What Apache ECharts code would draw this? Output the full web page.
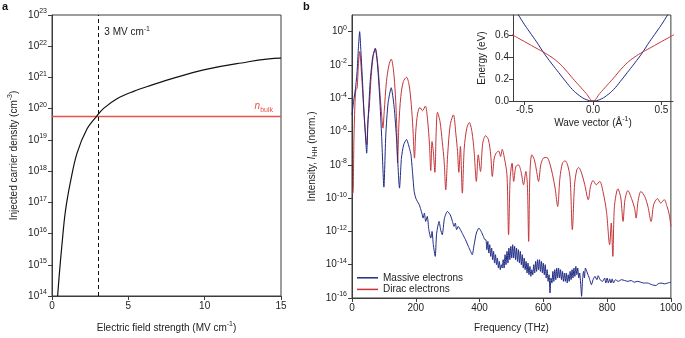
<!DOCTYPE html>
<html>
<head>
<meta charset="utf-8">
<script src="https://cdn.jsdelivr.net/npm/echarts@6.0.0/dist/echarts.min.js"></script>
<style>
html,body{margin:0;padding:0;background:#fff;}
#chart{width:685px;height:338px;}
</style>
</head>
<body>
<div id="chart"></div>
<script>
// ---------- Panel a: injected carrier density vs field (log10 of density) ----------
const fieldValues = [0.369,0.5,0.653,0.871,1.198,1.635,2.29,2.945,3.381,4.255,5.346,6.437,8.184,9.93,12.11,14.95,15];
const densityExp  = [14.0,14.82,15.65,16.69,17.63,18.57,19.35,19.77,20.01,20.32,20.555,20.74,21.01,21.24,21.44,21.62,21.62];
const bulkDensityExp = 19.76;
const fieldMark = 3;
const leftXTicks = [0,5,10,15];
const leftYTicks = [14,15,16,17,18,19,20,21,22,23];

// ---------- Panel b: HHG spectra (log10 of normalised intensity) ----------
const diracFreq = [0,3,6,9,12,16,20,24,29,34,40,46,50,54,59,65,73,81,88,93,97,101,108,116,123,130,136,140,143,147,153,161,171,179,186,191,196,200,206,213,221,230,237,243,247,251,255,260,264,268,276,283,289,294,300,308,318,326,331,335,340,346,352,360,368,376,383,390,396,403,410,419,428,435,440,446,452,460,466,471,478,486,491,496,502,507,514,522,530,538,545,550,554,558,564,572,579,585,592,600,611,620,629,637,645,652,660,668,676,684,691,698,705,711,720,730,741,748,756,766,777,787,798,808,813,818,823,834,843,850,856,865,878,886,891,897,906,918,928,938,946,958,968,979,988,995,1000];
const diracLogI = [-9.7,-9.7,-6.5,-4.5,-3.5,-3.4,-2.0,-1.2,-2.3,-3.8,-5.5,-6.8,-5.3,-4.6,-3.0,-1.7,-1.0,-2.0,-3.8,-5.0,-5.8,-4.8,-3.0,-2.0,-1.65,-2.3,-3.8,-5.5,-7.9,-5.6,-3.9,-3.0,-2.74,-3.2,-4.4,-5.8,-7.6,-6.0,-4.9,-4.55,-4.75,-4.47,-5.3,-6.8,-8.35,-6.6,-7.2,-8.45,-6.0,-4.85,-5.4,-6.6,-7.8,-9.5,-7.4,-5.6,-5.0,-6.2,-7.2,-8.45,-6.9,-9.7,-7.0,-5.8,-5.46,-6.0,-7.2,-9.0,-7.4,-8.4,-6.7,-6.25,-6.5,-7.4,-8.7,-7.6,-7.3,-7.17,-7.5,-7.07,-7.6,-8.6,-12.2,-8.8,-7.9,-9.0,-8.1,-8.0,-8.4,-9.2,-8.4,-9.2,-12.6,-8.5,-7.4,-7.7,-8.4,-9.0,-8.0,-7.6,-7.56,-7.9,-8.6,-9.4,-10.5,-8.8,-7.9,-7.76,-8.0,-8.8,-11.9,-9.2,-8.3,-8.16,-8.5,-9.2,-10.1,-9.3,-8.94,-9.2,-9.0,-9.6,-10.8,-12.8,-11.5,-13.5,-10.5,-9.44,-10.0,-11.4,-10.1,-9.55,-10.1,-10.6,-11.2,-10.2,-9.6,-9.9,-10.5,-11.4,-10.4,-10.03,-10.3,-10.09,-10.5,-11.0,-11.7];

const massiveFreq = [0,5,11,16,20,24,28,33,38,43,46,50,57,65,73,80,87,93,100,106,113,123,132,140,149,155,162,171,180,185,190,195,200,205,211,216,219,223,227,231,236,241,247,251,255,261,265,269,273,278,283,290,299,308,315,320,324,328,333,340,348,356,365,372,377,383,390,398,405,412,417,
420,423,426,429,432,435,438,441,444,447,450,453,456,459,462,465,468,471,474,477,480,483,486,489,492,495,498,501,504,507,510,513,516,519,522,525,528,531,534,537,540,543,546,549,552,555,558,561,564,567,570,573,576,579,582,585,588,591,594,597,600,603,606,609,612,615,618,621,624,627,630,633,636,639,642,645,648,651,654,657,660,663,666,669,672,675,678,681,684,687,690,693,696,699,702,705,708,711,714,717,720,723,726,729,732,
738,744,751,756,762,768,772,778,786,792,796,800,804,808,812,816,820,826,835,845,855,865,875,885,896,905,915,927,940,953,960,969,980,990,1000];
const massiveLogI = [-5.0,-4.2,-3.4,-2.4,-1.0,0.0,-1.2,-3.0,-5.0,-6.5,-7.3,-5.5,-3.0,-1.5,-1.02,-2.0,-4.0,-6.3,-9.34,-6.2,-4.3,-3.37,-4.5,-6.5,-9.4,-7.6,-6.8,-6.48,-7.0,-7.4,-8.5,-9.6,-10.0,-10.2,-10.4,-10.7,-10.9,-11.2,-10.9,-11.4,-11.1,-11.9,-12.4,-12.0,-12.8,-13.5,-12.2,-11.7,-11.4,-11.9,-12.2,-11.2,-10.8,-11.0,-11.4,-11.7,-11.5,-11.9,-11.7,-11.9,-12.2,-12.5,-12.9,-13.2,-13.4,-12.8,-12.1,-11.8,-12.0,-12.3,-12.5,
-12.5,-13.1,-12.6,-13.3,-12.8,-13.5,-13.0,-13.7,-13.2,-13.9,-13.4,-14.0,-13.6,-14.2,-13.8,-14.3,-14.0,-14.2,-13.7,-14.2,-13.4,-14.0,-13.2,-13.9,-13.0,-13.7,-12.9,-13.6,-12.8,-13.6,-12.9,-13.7,-13.0,-13.8,-13.1,-13.9,-13.2,-14.0,-13.4,-14.2,-13.6,-14.3,-13.8,-14.5,-13.9,-14.6,-14.1,-14.7,-14.3,-14.6,-14.0,-14.5,-13.8,-14.4,-13.7,-14.3,-13.7,-14.4,-13.8,-14.5,-13.9,-14.6,-14.0,-14.8,-14.3,-15.0,-14.6,-15.7,-14.8,-15.1,-14.4,-15.0,-14.3,-14.9,-14.2,-14.8,-14.2,-14.8,-14.3,-14.9,-14.4,-15.0,-14.5,-15.0,-14.5,-15.1,-14.6,-15.0,-14.4,-14.9,-14.3,-14.8,-14.2,-14.7,-14.1,-14.6,-14.2,-14.8,-14.5,-15.1,-15.9,-14.9,-14.4,-14.8,-14.2,
-14.5,-14.8,-15.2,-14.9,-14.7,-14.9,-14.66,-14.9,-15.0,-14.8,-15.1,-14.8,-15.1,-14.85,-15.1,-14.85,-15.1,-14.9,-15.0,-14.9,-14.95,-15.0,-14.95,-15.05,-15.0,-15.05,-15.1,-15.1,-15.2,-15.25,-15.15,-15.1,-15.15,-15.1,-15.05];
const rightXTicks = [0,200,400,600,800,1000];
const rightYTicks = [-16,-14,-12,-10,-8,-6,-4,-2,0];

// ---------- Inset: band dispersion ----------
const waveVector = [-0.6,-0.55,-0.5,-0.45,-0.4,-0.366,-0.3,-0.25,-0.2,-0.15,-0.1,-0.05,0,0.05,0.1,0.15,0.2,0.25,0.3,0.366,0.4,0.45,0.5,0.55,0.6];
const energyMassive = [0.9,0.8,0.7,0.61,0.52,0.452,0.34,0.26,0.18,0.105,0.05,0.013,0,0.013,0.05,0.105,0.18,0.26,0.34,0.452,0.52,0.61,0.7,0.8,0.9];
const energyDirac = [0.615,0.58,0.545,0.51,0.475,0.452,0.40,0.35,0.285,0.21,0.14,0.07,0,0.07,0.14,0.21,0.285,0.35,0.40,0.452,0.475,0.51,0.545,0.58,0.615];
const insetXTicks = [-0.5,0,0.5];
const insetYTicks = [0,0.2,0.4,0.6];

const FONT = '"Liberation Sans", Arial, sans-serif';
const TXT = '#222';
const RED = '#c4353a';
const BLUE = '#1f2a84';
const BULK_RED = '#e8514b';
const FRAME = '#3c3c3c';

const zip = (a, b) => a.map((v, i) => [v, b[i]]);
const supRich = {
  sup: { fontSize: 7, fontFamily: FONT, color: TXT, padding: [0, 0, 7, 0] },
  sub: { fontSize: 7, fontFamily: FONT, color: TXT, padding: [6, 0, 0, 0] },
  it: { fontSize: 10, fontFamily: FONT, color: TXT, fontStyle: 'italic' }
};
const expFmt = v => '10{sup|' + (v < 0 ? '-' + Math.abs(v) : v) + '}';
const plainFmt = v => String(v);

const baseAxis = {
  axisLine: { show: true, onZero: false, lineStyle: { color: FRAME, width: 1 } },
  axisTick: { show: true, inside: false, length: 4, lineStyle: { color: FRAME } },
  axisLabel: { fontSize: 10, fontFamily: FONT, color: TXT, margin: 4, rich: supRich },
  splitLine: { show: false },
  nameTextStyle: { fontSize: 10, fontFamily: FONT, color: TXT, rich: supRich },
  nameLocation: 'middle'
};
function ax(extra) {
  const o = JSON.parse(JSON.stringify(baseAxis));
  for (const k in extra) {
    if (typeof extra[k] === 'object' && !Array.isArray(extra[k]) && o[k]) Object.assign(o[k], extra[k]);
    else o[k] = extra[k];
  }
  return o;
}

const chart = echarts.init(document.getElementById('chart'), null, { renderer: 'canvas' });
chart.setOption({
  animation: false,
  backgroundColor: '#fff',
  textStyle: { fontFamily: FONT },
  grid: [
    { left: 52, top: 15, width: 229, height: 288, show: true, borderColor: FRAME, borderWidth: 1, backgroundColor: 'transparent' },
    { left: 352, top: 15, width: 321, height: 288, show: true, borderColor: FRAME, borderWidth: 1, backgroundColor: 'transparent' },
    { left: 513, top: 15, width: 160, height: 86, show: false }
  ],
  xAxis: [
    ax({ gridIndex: 0, type: 'value', min: 0, max: 15, interval: 5,
      axisTick: { customValues: leftXTicks }, axisLabel: { customValues: leftXTicks, formatter: plainFmt, margin: 5 },
      name: 'Electric field strength (MV cm{sup|-1})', nameGap: 25 }),
    ax({ gridIndex: 1, type: 'value', min: 0, max: 1000, interval: 200,
      axisTick: { customValues: rightXTicks }, axisLabel: { customValues: rightXTicks, formatter: plainFmt, margin: 5 },
      name: 'Frequency (THz)', nameGap: 25 }),
    ax({ gridIndex: 2, type: 'value', min: -0.585, max: 0.585,
      axisTick: { customValues: insetXTicks }, axisLabel: { customValues: insetXTicks, formatter: v => v.toFixed(1), margin: 4 },
      name: 'Wave vector (Å{sup|-1})', nameGap: 15 })
  ],
  yAxis: [
    ax({ gridIndex: 0, type: 'value', min: 14, max: 23, interval: 1,
      axisTick: { customValues: leftYTicks }, axisLabel: { customValues: leftYTicks, formatter: expFmt, margin: 5 },
      name: 'Injected carrier density (cm{sup|-3})', nameGap: 31 }),
    ax({ gridIndex: 1, type: 'value', min: -16, max: 1,
      axisTick: { customValues: rightYTicks }, axisLabel: { customValues: rightYTicks, formatter: expFmt, margin: 5 },
      name: 'Intensity, {it|I}{sub|HH} (norm.)', nameGap: 33 }),
    ax({ gridIndex: 2, type: 'value', min: 0, max: 0.79,
      axisTick: { customValues: insetYTicks }, axisLabel: { customValues: insetYTicks, formatter: v => v.toFixed(1), margin: 4 },
      name: 'Energy (eV)', nameGap: 26 })
  ],
  legend: {
    left: 352, top: 267, orient: 'vertical', icon: 'rect', itemWidth: 21, itemHeight: 1.5, itemGap: 0,
    data: ['Massive electrons', 'Dirac electrons'],
    textStyle: { fontSize: 10, fontFamily: FONT, color: TXT, lineHeight: 11.6 },
    selectedMode: false
  },
  graphic: [
    { type: 'text', left: 2, top: 1, style: { text: 'a', font: 'bold 11px ' + FONT, fill: '#111' } },
    { type: 'text', left: 303, top: 1, style: { text: 'b', font: 'bold 11px ' + FONT, fill: '#111' } }
  ],
  series: [
    {
      name: 'density', type: 'line', xAxisIndex: 0, yAxisIndex: 0, data: zip(fieldValues, densityExp),
      symbol: 'none', smooth: 0.35, clip: true, lineStyle: { color: '#111', width: 1.2 }, z: 5,
      markLine: {
        silent: true, symbol: 'none', animation: false,
        data: [
          { yAxis: bulkDensityExp, lineStyle: { color: BULK_RED, type: 'solid', width: 1.3 },
            label: { show: true, position: 'insideEndTop', distance: [8, 3], formatter: '{n|n}{b|bulk}',
              rich: { n: { fontSize: 10, fontStyle: 'italic', color: BULK_RED, fontFamily: FONT },
                      b: { fontSize: 7, color: BULK_RED, fontFamily: FONT, padding: [6, 0, 0, 0] } } } },
          { xAxis: fieldMark, lineStyle: { color: '#111', type: [4, 3], width: 1 }, label: { show: false } }
        ]
      },
      markPoint: {
        silent: true, animation: false,
        data: [{ coord: [fieldMark, 22.44], symbol: 'circle', symbolSize: 1, itemStyle: { color: 'rgba(0,0,0,0)' },
          label: { show: true, position: 'right', distance: 6, formatter: '3 MV cm{sup|-1}', fontSize: 10, fontFamily: FONT, color: TXT, rich: supRich } }]
      }
    },
    {
      name: 'Dirac electrons', type: 'line', xAxisIndex: 1, yAxisIndex: 1, data: zip(diracFreq, diracLogI),
      symbol: 'none', smooth: 0.3, clip: true, lineStyle: { color: RED, width: 1 }, itemStyle: { color: RED }
    },
    {
      name: 'Massive electrons', type: 'line', xAxisIndex: 1, yAxisIndex: 1, data: zip(massiveFreq, massiveLogI),
      symbol: 'none', smooth: 0.2, clip: true, lineStyle: { color: BLUE, width: 1 }, itemStyle: { color: BLUE }
    },
    {
      name: 'inset massive', type: 'line', xAxisIndex: 2, yAxisIndex: 2, data: zip(waveVector, energyMassive),
      symbol: 'none', smooth: 0.4, clip: true, lineStyle: { color: BLUE, width: 1 }
    },
    {
      name: 'inset dirac', type: 'line', xAxisIndex: 2, yAxisIndex: 2, data: zip(waveVector, energyDirac),
      symbol: 'none', smooth: 0.4, clip: true, lineStyle: { color: RED, width: 1 }
    }
  ]
});
</script>
</body>
</html>
